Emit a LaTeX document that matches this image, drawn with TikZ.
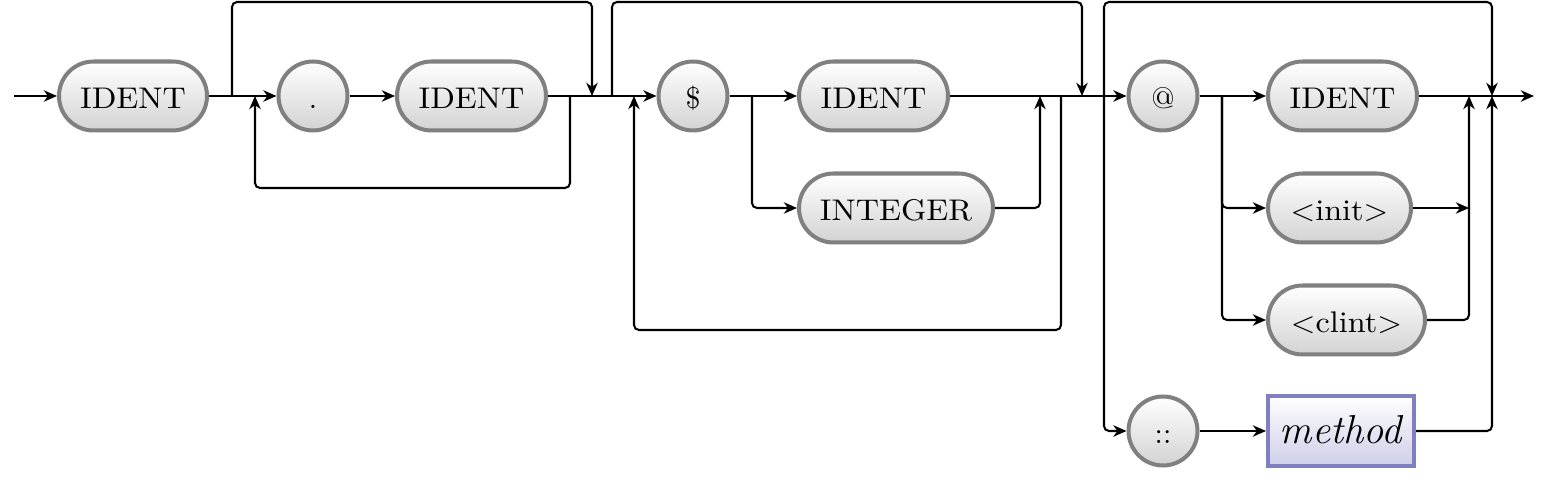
\documentclass[tikz,border=0pt]{standalone}
\usepackage{fontspec}
\usepackage{graphicx}
\usetikzlibrary{arrows.meta}
\definecolor{ntborder}{RGB}{128,128,192}
\definecolor{ntfill}{RGB}{206,206,232}
\newcommand{\wtxt}[1]{\scalebox{1.08}[1]{#1}}
\begin{document}
\begin{tikzpicture}[x=0.3415pt,y=-0.3415pt,
 term/.style={draw=gray,line width=1.37pt,top color=white,bottom color=gray!35,
   rounded corners=11.78pt,minimum height=23.56pt,inner sep=0pt,
   text height=9.2pt,text depth=0.6pt,
   font=\fontsize{10.2}{12}\selectfont},
 circ/.style={term,minimum width=23.56pt},
 nonterm/.style={draw=ntborder,line width=1.37pt,top color=white,bottom color=ntfill,
   minimum height=23.9pt,inner sep=0pt,text height=9.6pt,text depth=0.8pt,
   font=\fontsize{13.8}{16}\selectfont\itshape},
 conn/.style={line width=0.7pt,rounded corners=1.7pt},
 arr/.style={conn,-{Stealth[length=4.5pt,width=3.9pt,inset=1.4pt]}},
]
\useasboundingbox (0,0) rectangle (1548,483);
% nodes
\node[term,minimum width=148*0.3415pt] (id1) at (133,96) {\wtxt{IDENT}};
\node[circ] (dot) at (313,96) {.};
\node[term,minimum width=149*0.3415pt] (id2) at (471.5,96) {\wtxt{IDENT}};
\node[circ] (dollar) at (693,96) {\$};
\node[term,minimum width=149*0.3415pt] (id3) at (873.5,96) {\wtxt{IDENT}};
\node[term,minimum width=194*0.3415pt] (integer) at (896,208) {\wtxt{INTEGER}};
\node[circ] (at) at (1163,96) {@};
\node[term,minimum width=149*0.3415pt] (id4) at (1342.5,96) {\wtxt{IDENT}};
\node[term,minimum width=143*0.3415pt] (init) at (1339.5,208) {\wtxt{$<$init$>$}};
\node[term,minimum width=157*0.3415pt] (clint) at (1346.5,320) {\wtxt{$<$clint$>$}};
\node[circ] (colons) at (1163,431) {::};
\node[nonterm,minimum width=146*0.3415pt] (method) at (1341,431) {method};
% coordinates
\coordinate (start) at (14,96);
\coordinate (stop) at (1534,96);
\coordinate (top) at (0,2);
\coordinate (bot1) at (0,188);
\coordinate (bot2) at (0,330);
\coordinate (j1) at (232,96);
\coordinate (j2) at (592,96);
\coordinate (j3) at (570,96);
\coordinate (j4) at (255,96);
\coordinate (j5) at (612,96);
\coordinate (j6) at (1082,96);
\coordinate (j7) at (1061,96);
\coordinate (j8) at (634,96);
\coordinate (j9) at (752,96);
\coordinate (j10) at (1040,96);
\coordinate (j11) at (1104,96);
\coordinate (j12) at (1492,96);
\coordinate (j13) at (1222,96);
\coordinate (j14) at (1469,96);
% connectors
\draw[arr] (start) -- (id1.west);
\draw[arr] (id1.east) -- (dot.west);
\draw[arr] (j1) -- (j1|-top) -- (j2|-top) -- (j2);
\draw[arr] (dot.east) -- (id2.west);
\draw[arr] (j3) -- (j3|-bot1) -- (j4|-bot1) -- (j4);
\draw[arr] (id2.east) -- (dollar.west);
\draw[arr] (j5) -- (j5|-top) -- (j6|-top) -- (j6);
\draw[arr] (j7) -- (j7|-bot2) -- (j8|-bot2) -- (j8);
\draw[arr] (dollar.east) -- (id3.west);
\draw[arr] (j9) |- (integer.west);
\draw[arr] (integer.east) -| (j10);
\draw[arr] (id3.east) -- (at.west);
\draw[arr] (j11) -- (j11|-top) -- (j12|-top) -- (j12);
\draw[arr] (j11) |- (colons.west);
\draw[arr] (at.east) -- (id4.west);
\draw[arr] (j13) |- (init.west);
\draw[arr] (j13) |- (clint.west);
\draw[arr] (init.east) -- (init.east-|j14);
\draw[arr] (clint.east) -| (j14);
\draw[arr] (colons.east) -- (method.west);
\draw[arr] (method.east) -| (j12);
\draw[arr] (id4.east) -- (stop);
\end{tikzpicture}
\end{document}
